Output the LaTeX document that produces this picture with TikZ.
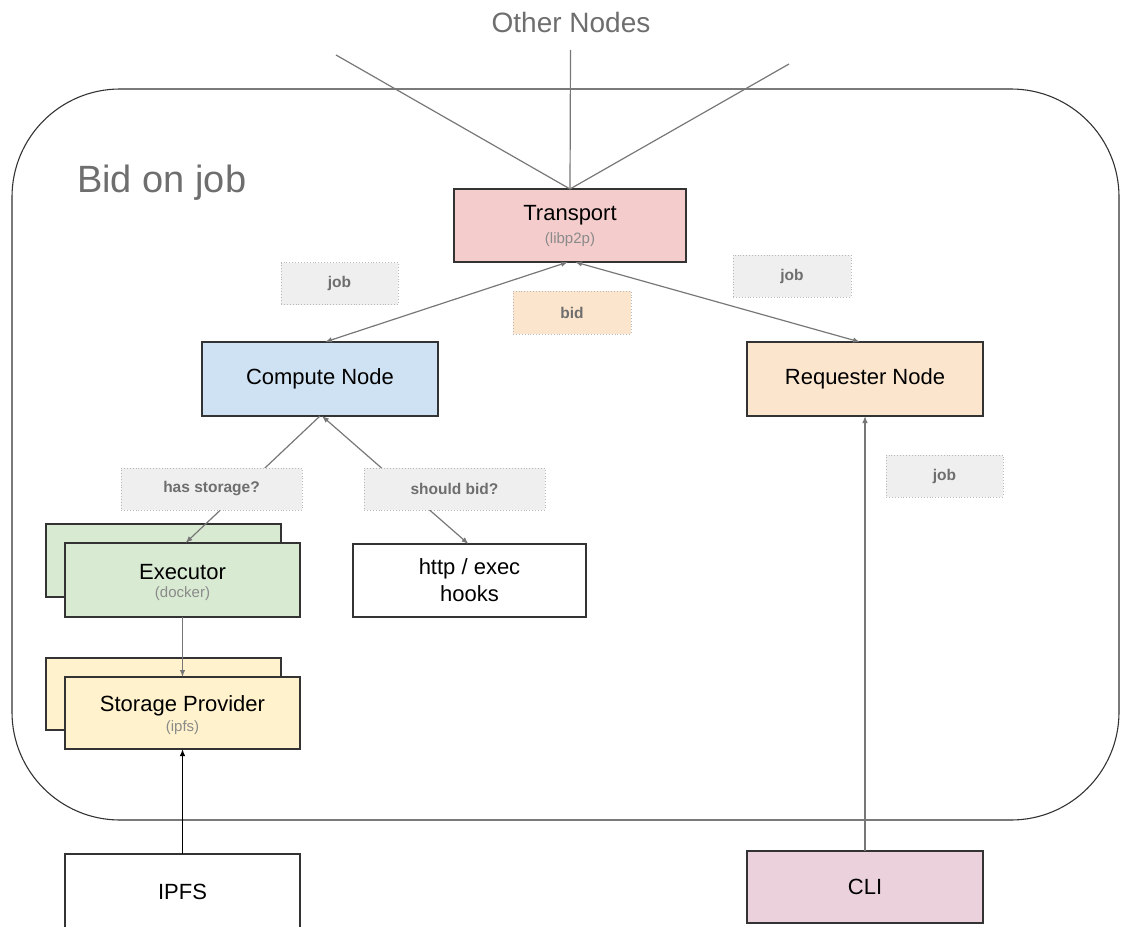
\documentclass[tikz,border=0pt]{standalone}
\usepackage{fontspec}
\setmainfont{Liberation Sans}
\usetikzlibrary{arrows.meta}

\definecolor{inkdark}{HTML}{333333}
\definecolor{wire}{HTML}{777777}
\definecolor{softtext}{HTML}{6E6E6E}
\definecolor{subtext}{HTML}{8A8A8A}
\definecolor{tagfill}{HTML}{EFEFEF}
\definecolor{tagedge}{HTML}{B8B8B8}
\definecolor{pinkfill}{HTML}{F4CCCC}
\definecolor{bluefill}{HTML}{CFE2F3}
\definecolor{orangefill}{HTML}{FCE5CD}
\definecolor{greenfill}{HTML}{D9EAD3}
\definecolor{yellowfill}{HTML}{FFF2CC}
\definecolor{mauvefill}{HTML}{EAD1DC}

\tikzset{
  box/.style={draw=inkdark, line width=1.2pt, inner sep=0pt, outer sep=0pt,
    minimum width=235pt, minimum height=73pt, font=\fontsize{22}{26}\selectfont,
    text=black, align=center},
  subtitle/.style={inner sep=0pt, font=\fontsize{15}{18}\selectfont, text=subtext},
  tag/.style={draw=tagedge, dotted, line width=0.9pt, fill=tagfill, inner sep=0pt,
    outer sep=0pt, minimum height=42pt, font=\bfseries\fontsize{15.5}{18}\selectfont,
    text=softtext},
  wireline/.style={draw=wire, line width=1.2pt},
  tip/.style={-{Latex[length=7pt,width=5.5pt]}},
  bothtips/.style={{Latex[length=7pt,width=5.5pt]}-{Latex[length=7pt,width=5.5pt]}},
}

\begin{document}
\begin{tikzpicture}[x=1pt,y=-1pt]
\useasboundingbox (0,0) rectangle (1121,926);

% enclosing region of this node
\draw[inkdark, line width=1.1pt, rounded corners=108pt] (12,89) rectangle (1119,820);

% headings
\node[font=\fontsize{28}{32}\selectfont, text=softtext, inner sep=0pt] (others) at (571,22) {Other Nodes};
\node[font=\fontsize{38}{42}\selectfont, text=softtext, inner sep=0pt, anchor=west] (title) at (77,183) {Bid on job};

% incoming links from the rest of the network
\coordinate (peerA) at (336,55);
\coordinate (peerB) at (570.5,50);
\coordinate (peerC) at (789,64);

% main components
\node[box, fill=pinkfill, minimum width=232pt] (transport) at (570,225.5) {};
\node[box, fill=bluefill, minimum width=236pt, minimum height=74pt] (compute) at (320,379) {Compute Node};
\node[box, fill=orangefill, minimum width=236pt, minimum height=74pt] (requester) at (865,379) {Requester Node};

\node[box, fill=greenfill] (executorback) at (163.5,560.5) {};
\node[box, fill=greenfill, minimum height=74pt] (executor) at (182.5,580) {};
\node[box, fill=yellowfill, minimum height=72pt] (storageback) at (163.5,694) {};
\node[box, fill=yellowfill, minimum height=72pt] (storage) at (182.5,713) {};
\node[box, fill=white, minimum width=233pt] (hooks) at (469.5,580.5) {http / exec\\[1pt]hooks};

\node[box, fill=white, minimum height=76pt] (ipfs) at (182.5,892) {IPFS};
\node[box, fill=mauvefill, minimum width=236pt, minimum height=72pt] (cli) at (865,887) {CLI};

% box captions
\node[font=\fontsize{22}{26}\selectfont, inner sep=0pt] (transportname) at ([yshift=10pt]transport.center) {Transport};
\node[subtitle] (transportsub) at ([yshift=-14.5pt]transport.center) {(libp2p)};
\node[font=\fontsize{22}{26}\selectfont, inner sep=0pt] (executorname) at ([yshift=8pt]executor.center) {Executor};
\node[subtitle] (executorsub) at ([yshift=-14pt]executor.center) {(docker)};
\node[font=\fontsize{22}{26}\selectfont, inner sep=0pt] (storagename) at ([yshift=7pt]storage.center) {Storage Provider};
\node[subtitle] (storagesub) at ([yshift=-15pt]storage.center) {(ipfs)};

% connectors
\draw[wireline] (peerA) -- (transport.north);
\draw[wireline] (peerB) -- (transport.north);
\draw[wireline] (peerC) -- (transport.north);
\draw[wireline, bothtips] ([xshift=-2pt]transport.south) -- ([xshift=5pt]compute.north);
\draw[wireline, bothtips] ([xshift=5pt]transport.south) -- ([xshift=-5pt]requester.north);
\draw[wireline, tip] (compute.south) -- ([xshift=3pt]executor.north);
\draw[wireline, bothtips] ([xshift=2pt]compute.south) -- ([xshift=-1pt]hooks.north);
\draw[wireline, tip] (executor.south) -- (storage.north);
\draw[black, line width=1.3pt, tip] (ipfs.north) -- (storage.south);
\draw[wireline, tip] (cli.north) -- (requester.south);

% message tags
\node[tag, minimum width=117pt] (jobdown) at (339.5,283.5) {job};
\node[tag, fill=orangefill, minimum width=118pt, minimum height=43pt] (bidup) at (572,312.5) {bid};
\node[tag, minimum width=118pt] (jobright) at (792,276) {job};
\node[tag, minimum width=117pt] (jobcli) at (944.5,476) {job};
\node[tag, minimum width=181pt] (storagetag) at (211.5,489) {has storage?};
\node[tag, minimum width=181pt] (bidtag) at (454.5,489) {should bid?};
\end{tikzpicture}
\end{document}
